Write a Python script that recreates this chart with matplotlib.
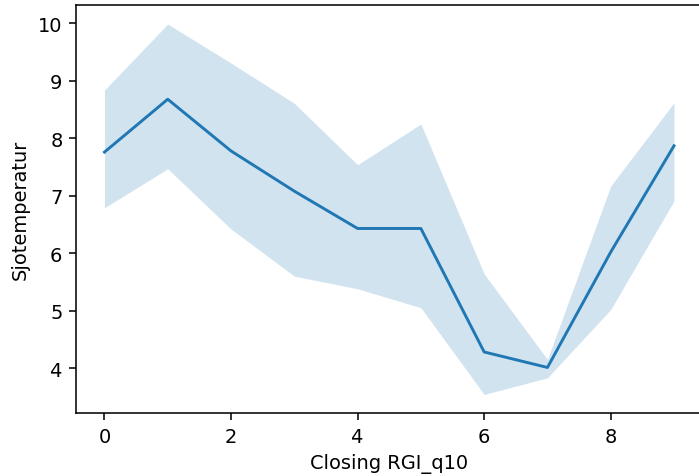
import matplotlib
matplotlib.use("Agg")
import matplotlib.pyplot as plt

# mean sea temperature per RGI_q10 bin, with the 95% band
rgi_bins = [0, 1, 2, 3, 4, 5, 6, 7, 8, 9]
temp_mean = [7.76, 8.68, 7.78, 7.08, 6.43, 6.43, 4.28, 4.01, 6.02, 7.87]
temp_low = [6.79, 7.47, 6.42, 5.60, 5.38, 5.05, 3.54, 3.83, 5.02, 6.91]
temp_high = [8.84, 9.99, 9.31, 8.61, 7.54, 8.25, 5.64, 4.15, 7.17, 8.62]

fig = plt.figure(figsize=(5.0, 3.412), dpi=139.8)
# the right spine sits just outside the saved picture in the reference
ax = fig.add_axes([0.1087, 0.1321, 0.8963, 0.8543])

ax.fill_between(rgi_bins, temp_low, temp_high, color="#1f77b4", alpha=0.2, linewidth=0)
ax.plot(rgi_bins, temp_mean, color="#1f77b4", linewidth=1.5)

ax.margins(x=0.05, y=0.05)
ax.set_xticks([0, 2, 4, 6, 8])
ax.set_yticks([4, 5, 6, 7, 8, 9, 10])
ax.set_xlabel("Closing RGI_q10")
ax.set_ylabel("Sjotemperatur")

fig.savefig("out.png", dpi=139.8)
